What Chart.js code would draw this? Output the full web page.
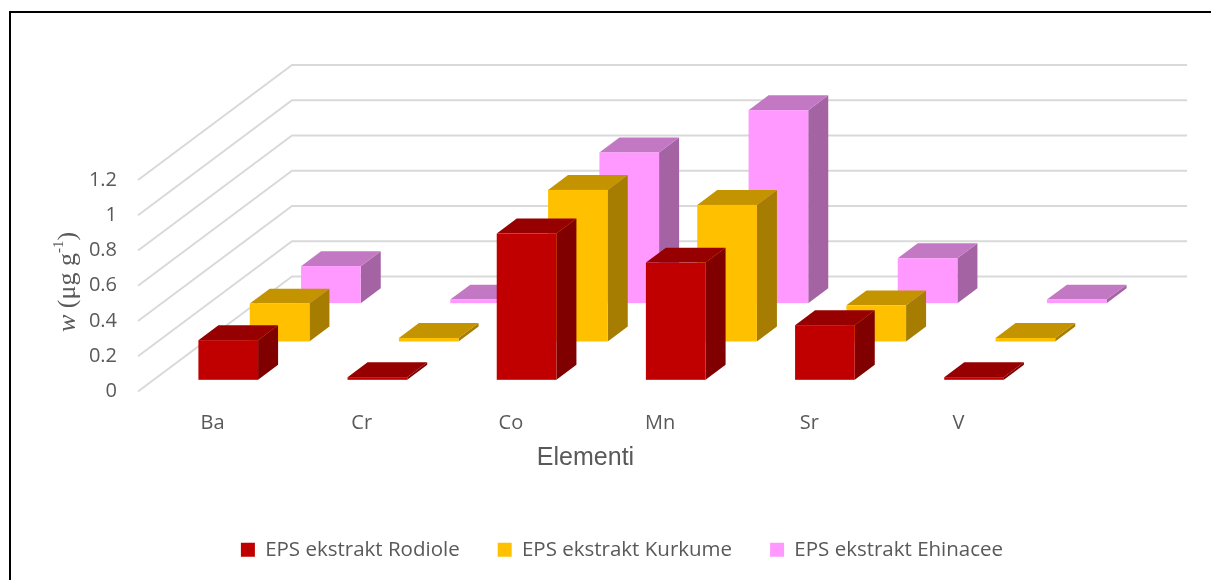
<!DOCTYPE html>
<html>
<head>
<meta charset="utf-8">
<script src="https://cdn.jsdelivr.net/npm/chart.js@4.4.1/dist/chart.umd.min.js"></script>
<style>
  html, body { margin: 0; padding: 0; background: #fff; }
</style>
</head>
<body>
<canvas id="grafico" width="1211" height="580"></canvas>
<script>
// Dati
const elementi = ['Ba', 'Cr', 'Co', 'Mn', 'Sr', 'V'];
const rodiole  = [0.225, 0.015, 0.83, 0.665, 0.31, 0.015];
const kurkume  = [0.215, 0.02, 0.86, 0.775, 0.205, 0.02];
const ehinacee = [0.21, 0.02, 0.855, 1.095, 0.255, 0.02];
const nomiSerie = ['EPS ekstrakt Rodiole', 'EPS ekstrakt Kurkume', 'EPS ekstrakt Ehinacee'];
const assiY = { min: 0, max: 1.2, passo: 0.2 };

// Colori delle facce: fronte, sopra, lato
const coloriFronte = ['#C00000', '#FFC000', '#FF99FF'];
const coloriSopra  = ['#960000', '#C49300', '#C278C2'];
const coloriLato   = ['#800000', '#A67D00', '#A464A4'];

const grigio = '#595959';
const profondita = { x: 154, y: -115 };   // spostamento della parete di fondo

function poligono(ctx, punti, colore) {
    ctx.beginPath();
    ctx.moveTo(punti[0][0], punti[0][1]);
    for (let i = 1; i < punti.length; i++) ctx.lineTo(punti[i][0], punti[i][1]);
    ctx.closePath();
    ctx.fillStyle = colore;
    ctx.fill();
}

// Disegna griglia e barre in 3D al posto delle barre normali
const barre3d = {
    id: 'barre3d',
    beforeDatasetsDraw(chart) {
        const { ctx, chartArea: a, scales: { x, y } } = chart;
        ctx.save();

        // griglia: parete laterale + parete di fondo
        ctx.strokeStyle = '#D9D9D9';
        ctx.lineWidth = 2;
        y.ticks.forEach(t => {
            const py = y.getPixelForValue(t.value);
            ctx.beginPath();
            ctx.moveTo(a.left, py);
            ctx.lineTo(a.left + profondita.x, py + profondita.y);
            ctx.lineTo(a.right + profondita.x, py + profondita.y);
            ctx.stroke();
        });

        const n = chart.data.datasets.length;
        const larghCat = x.getPixelForValue(1) - x.getPixelForValue(0);
        const bw = larghCat * 0.4;
        const dx = profondita.x * 0.13, dy = profondita.y * 0.13;

        // dal fondo verso il davanti
        for (let s = n - 1; s >= 0; s--) {
            const ds = chart.data.datasets[s];
            const ox = profondita.x * (s + 0.5) / n - dx / 2;
            const oy = profondita.y * (s + 0.5) / n - dy / 2;
            ds.data.forEach((v, i) => {
                const cx = x.getPixelForValue(i) + ox;
                const l = cx - bw / 2, r = cx + bw / 2;
                const b = y.getPixelForValue(0) + oy;
                const t = y.getPixelForValue(v) + oy;
                poligono(ctx, [[r, b], [r + dx, b + dy], [r + dx, t + dy], [r, t]], coloriLato[s]);
                poligono(ctx, [[l, t], [r, t], [r + dx, t + dy], [l + dx, t + dy]], coloriSopra[s]);
                ctx.fillStyle = coloriFronte[s];
                ctx.fillRect(l, t, r - l, b - t);
            });
        }
        ctx.restore();
        return false;
    },
    afterDraw(chart) {
        const { ctx } = chart;
        ctx.save();
        // titolo asse y: w (μg g-1)
        ctx.translate(68, 282);
        ctx.rotate(-Math.PI / 2);
        ctx.fillStyle = grigio;
        ctx.textBaseline = 'middle';
        const pezzi = [
            { t: 'w', f: 'italic 26px "Liberation Serif"', sy: 0 },
            { t: ' (\u03BCg g', f: '26px "Liberation Serif"', sy: 0 },
            { t: '-1', f: '15px "Liberation Serif"', sy: -9 },
            { t: ')', f: '26px "Liberation Serif"', sy: 0 }
        ];
        let tot = 0;
        pezzi.forEach(p => { ctx.font = p.f; p.w = ctx.measureText(p.t).width; tot += p.w; });
        let px = -tot / 2;
        pezzi.forEach(p => { ctx.font = p.f; ctx.fillText(p.t, px, p.sy); px += p.w; });
        ctx.restore();

        // cornice
        ctx.save();
        ctx.strokeStyle = '#000';
        ctx.lineWidth = 2;
        ctx.strokeRect(10, 12, 1400, 800);
        ctx.restore();
    }
};

const ctx = document.getElementById('grafico').getContext('2d');
const chart = new Chart(ctx, {
    type: 'bar',
    data: {
        labels: elementi,
        datasets: [
            { label: nomiSerie[0], data: rodiole,  backgroundColor: coloriFronte[0] },
            { label: nomiSerie[1], data: kurkume,  backgroundColor: coloriFronte[1] },
            { label: nomiSerie[2], data: ehinacee, backgroundColor: coloriFronte[2] }
        ]
    },
    options: {
        responsive: false,
        animation: false,
        layout: { padding: { top: 180, left: 33, right: 0, bottom: 10 } },
        plugins: {
            tooltip: { enabled: false },
            legend: {
                position: 'bottom',
                labels: {
                    boxWidth: 14,
                    boxHeight: 14,
                    padding: 38,
                    color: grigio,
                    font: { family: 'Open Sans', size: 20.5 }
                }
            }
        },
        scales: {
            x: {
                grid: { display: false, drawTicks: false },
                border: { display: false },
                ticks: { color: grigio, padding: 20, font: { family: 'Open Sans', size: 20 } },
                title: {
                    display: true,
                    text: 'Elementi',
                    color: grigio,
                    font: { family: 'Liberation Sans', size: 25 },
                    padding: { top: 0, bottom: 28 }
                },
                afterFit(s) { s.height = 110; }
            },
            y: {
                min: assiY.min,
                max: assiY.max,
                grid: { display: false, drawTicks: false },
                border: { display: false },
                ticks: {
                    stepSize: assiY.passo,
                    color: grigio,
                    padding: 21,
                    font: { family: 'Open Sans', size: 20 },
                    callback: v => String(Number(v.toFixed(2)))
                },
                afterFit(s) { s.width = 105; }
            },
            vuoto: {
                type: 'linear',
                position: 'right',
                grid: { display: false, drawTicks: false },
                border: { display: false },
                ticks: { display: false },
                afterFit(s) { s.width = 178; }
            }
        }
    },
    plugins: [barre3d]
});
</script>
</body>
</html>
